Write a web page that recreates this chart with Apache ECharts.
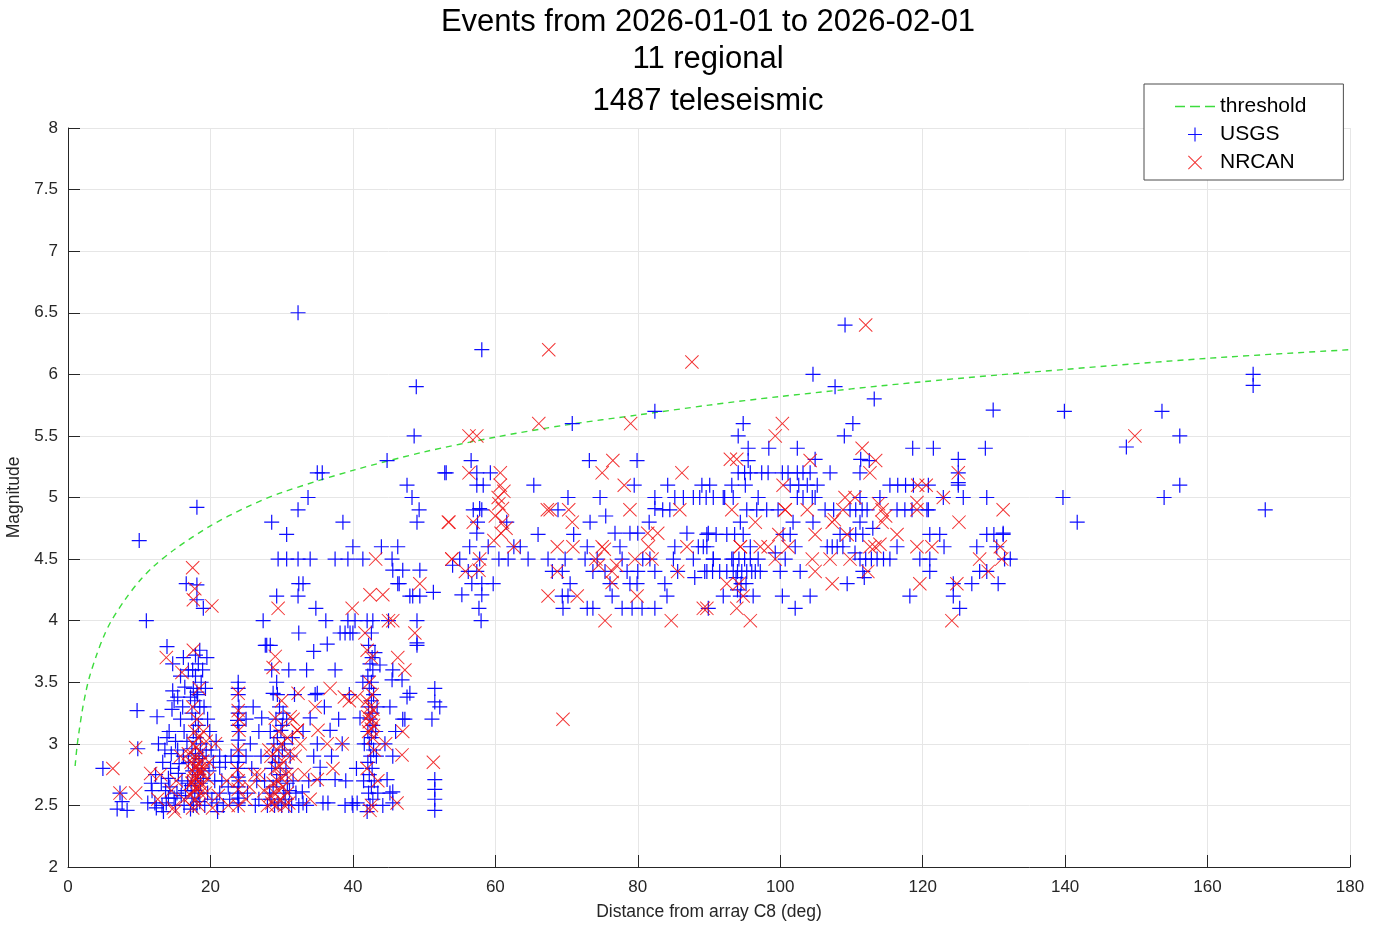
<!DOCTYPE html>
<html>
<head>
<meta charset="utf-8">
<title>Events</title>
<script src="https://cdn.jsdelivr.net/npm/echarts@6/dist/echarts.min.js"></script>
<style>
html, body { margin: 0; padding: 0; background: #fff; }
#main { width: 1380px; height: 925px; }
</style>
</head>
<body>
<div id="main"></div>
<script>
// chart texts
var titleLines = ["Events from 2026-01-01 to 2026-02-01", "11 regional", "1487 teleseismic"];
var xName = "Distance from array C8 (deg)";
var yName = "Magnitude";
var seriesNames = ["threshold", "USGS", "NRCAN"];

// threshold curve
var thrDist = [1, 1.25, 1.5, 2, 2.5, 3, 4, 5, 6, 8, 10, 12, 15, 20, 25, 30, 40, 50, 60, 70, 80, 90, 100, 120, 140, 160, 180];
var thrMag = [2.82, 2.97, 3.08, 3.27, 3.42, 3.54, 3.72, 3.87, 3.99, 4.17, 4.32, 4.44, 4.58, 4.77, 4.92, 5.04, 5.22, 5.37, 5.49, 5.59, 5.67, 5.75, 5.82, 5.94, 6.04, 6.13, 6.20];

// USGS events [distance, magnitude]
var usgsNear = [
  [4.9,2.8],[6.9,2.47],[7.3,2.6],[8.3,2.46],[7.6,2.53],[9.8,2.96],[9.7,3.27],[10,4.65],[11,4.0],[11.2,2.52],
  [12.2,2.52],[12.5,3.22],[12.7,3.0],[11.8,2.62],[12.3,2.75],[13.1,2.68],[13.3,2.85],[13.2,2.5],[13.9,3.79],[14.7,3.65],
  [14.7,3.43],[15.4,3.38],[14.6,3.28],[14.2,3.1],[14.5,2.92],[15.1,3.02],[15.3,2.6],[15.1,2.5],[14.1,2.56],[13.7,2.62],
  [15.5,2.76],[16.1,3.3],[16,2.7],[16.3,2.5],[15.8,3.55],[14.9,3.35],[14.1,2.72],[12.4,2.48],[11.7,2.68],[13.4,2.45],
  [14.9,2.56],[16.2,2.9],[15.8,3.2],[16.4,3.46],[16.6,4.3],[16.5,2.62],[15.6,2.84],[14.4,2.8],[13.6,2.95],[16.3,3.1],
  [14.3,2.65],[15.9,2.58],[13.8,2.52],[16.8,2.68],[16.9,2.85],[16.7,3.02],[15.4,2.95],[13.9,3.05],[16.9,3.6],[16.2,3.7],
  [17.2,2.47],[17.6,2.5],[18.1,2.5],[18.5,2.53],[17.4,2.56],[18.3,2.6],[17.8,2.62],[17.3,2.66],[18.6,2.68],[17.9,2.7],
  [18.2,2.75],[17.5,2.78],[18.8,2.8],[17.7,2.85],[18.4,2.88],[17.9,2.92],[17.4,2.96],[18.6,3.0],[18,3.05],[17.6,3.1],
  [18.3,3.15],[17.9,3.2],[17.4,3.25],[18.5,3.3],[17.8,3.35],[18.2,3.4],[17.6,3.45],[18.1,3.42],[18.7,3.5],[17.9,3.55],
  [17.5,3.6],[18.3,3.65],[17.9,3.72],[18.5,3.76],[17.2,3.38],[19.5,3.7],[18.1,4.17],[18.1,4.29],[19,4.1],[18.1,4.92],
  [19.2,2.5],[19.6,2.6],[19.8,2.78],[19.4,2.95],[20.2,2.55],[20.6,2.7],[19.9,3.1],[20.4,2.85],[21.3,2.9],[21.3,2.81],
  [21.3,2.6],[21.8,2.5],[22.5,2.65],[20.8,3.02],[19.1,3.3],[19.3,3.45],[21,2.45],[18.9,3.6],[19.6,3.2],[20.1,2.95],
  [21.6,2.7],[22.1,2.85],[20.9,2.52],[19.0,2.72],[18.9,2.9],
  [23.9,2.5],[23.9,2.52],[24,2.56],[23.8,2.6],[23.9,2.65],[24,2.7],[23.9,2.73],[23.8,2.8],[23.9,2.85],[24,2.9],
  [23.9,2.95],[23.9,3.03],[24,3.1],[23.9,3.15],[23.8,3.19],[23.9,3.25],[24,3.3],[23.9,3.4],[23.9,3.5],[23.9,3.45],
  [25.6,3.0],[25.2,2.6],[25.8,2.8],[26.3,2.5],[26.5,2.7],[22.9,2.9],[22.7,2.55],[25,3.2],[26,3.3],[25,2.9],[26.8,3.1],
  [27.4,4.0],[27.9,3.8],[27.7,3.8],[28.4,3.8],[28.6,3.6],[28.8,3.41],[29.3,3.5],[27.2,3.21],[28,2.5],[28.5,2.55],
  [29,2.5],[29.5,2.52],[30,2.5],[30.5,2.55],[31,2.5],[31.4,2.5],[28.3,2.6],[28.8,2.65],[29.3,2.7],[29.8,2.75],
  [30.3,2.6],[30.8,2.68],[28.6,2.8],[29.1,2.85],[29.6,2.9],[30.1,2.95],[30.6,2.8],[28.9,3.0],[29.4,3.05],[29.9,3.11],
  [30.4,3.0],[29.2,3.2],[29.7,3.3],[30.2,3.25],[28.4,3.1],[31.2,2.9],[31.6,2.7],[32,2.6],[32.9,2.61],[32.4,2.5],
  [33,2.52],[31.5,3.05],[27.6,2.7],[27.1,2.9],[26.8,2.55],[29.4,3.4],[30.1,3.15],[28.7,2.9],[30.7,3.2],[31.1,2.62]
];
var usgsMid = [
  [32.3,6.5],[35,5.2],[35.7,5.2],[33.7,5.0],[32.3,4.9],[28.6,4.8],[38.6,4.8],[30.7,4.7],[40,4.6],[29.5,4.5],
  [30.7,4.5],[32.3,4.5],[34,4.5],[37.5,4.5],[39.3,4.5],[41.4,4.5],[32.4,4.3],[33,4.3],[29.3,4.2],[32.3,4.2],
  [34.8,4.1],[32.4,3.9],[38.2,3.9],[38.9,3.9],[39.6,3.9],[40,3.9],[36.4,3.81],[39.3,4.0],[40.3,4.0],[37.5,3.6],
  [35,3.41],[34.7,3.4],[34,3.21],[36.8,3.11],[35,3.0],[35.4,2.81],[35.4,2.71],[37.5,2.71],[36.5,2.52],[35.8,2.52],
  [39.9,2.52],[40.6,2.52],[38.9,2.5],[40,2.5],[33.5,3.6],[36,3.3],[38,3.2],[38.5,3.0],[39.5,3.4],[34.5,2.9],
  [33.8,2.7],[37,2.9],[39,2.7],[40.5,2.8],[41,3.21],[36.2,4.0],[34.5,3.75],[33.5,2.5],[31.8,3.4],[31,3.6],[33,3.1],
  [42.0,2.45],[42.4,2.5],[42.8,2.55],[42.2,2.6],[42.6,2.65],[43,2.7],[42.3,2.75],[42.7,2.8],[42.1,2.85],[42.5,2.9],
  [42.9,2.95],[42.3,3.0],[42.6,3.05],[42.1,3.1],[42.8,3.15],[42.4,3.2],[42.7,3.25],[42.2,3.3],[42.6,3.35],[42.9,3.4],
  [42.3,3.45],[42.6,3.5],[42.1,3.55],[42.8,3.6],[42.4,3.65],[42.7,3.7],[42.2,3.8],[42.6,3.9],[42.8,4.0],[43.8,3.64],
  [43.1,3.74],[43.4,3.3],[43.3,2.9],[43.5,2.6],[41.5,2.7],[41.6,3.0],[41.4,3.5],[42,4.0],[43.2,3.1],
  [44.8,5.3],[48.9,5.9],[48.6,5.5],[47.6,5.1],[48.3,5.0],[49.3,4.9],[49,4.8],[46.3,4.6],[45.5,4.5],[45.6,4.41],
  [47,4.41],[49.4,4.41],[46.3,4.3],[46.5,4.3],[48,4.2],[48.4,4.2],[49.4,4.2],[51.3,4.23],[45,4.0],[49,4.0],
  [49,3.8],[49,3.82],[45.6,3.6],[45.5,3.52],[46.9,3.52],[48,3.41],[51.5,3.45],[51.5,3.34],[52.2,3.3],[51.1,3.2],
  [47,3.2],[47.6,3.38],[45.2,3.3],[47.3,3.2],[45.6,2.9],[44.8,2.71],[45.6,2.61],[45.2,2.6],[51.5,2.71],[51.5,2.63],
  [51.5,2.55],[51.5,2.46],[45.6,2.52],[44.5,3.0],[46,3.1],[44.2,2.5],[53.1,5.2],[44,4.6]
];
var usgsFar = [
  [58.1,6.2],[56.6,5.3],[52.9,5.2],[57.4,5.2],[59.3,5.2],[57.4,5.1],[58.3,5.1],[65.4,5.1],[57.8,4.91],[56.9,4.9],
  [58.1,4.9],[61.6,4.8],[57.4,4.71],[59,4.6],[56.4,4.6],[62.6,4.6],[55,4.5],[57.8,4.5],[61.8,4.5],[64.6,4.5],
  [56.2,4.4],[57.4,4.4],[56.7,4.3],[58.1,4.3],[59.7,4.3],[55.3,4.21],[58.1,4.21],[57.7,4.1],[58,4.0],[57.5,4.8],
  [63.5,4.6],[60.5,4.5],[54,4.45],
  [82.4,5.7],[70.8,5.6],[73.2,5.3],[79.9,5.3],[79.5,5.1],[84.2,5.1],[89,5.1],[90.1,5.1],[70.2,5.0],[74.7,5.0],
  [82.4,5.0],[82.4,4.91],[85.2,5.0],[86.4,5.0],[87.8,5.0],[68.8,4.9],[83.5,4.9],[84.5,4.9],[73.3,4.8],[81.6,4.8],
  [76.8,4.71],[78.9,4.71],[80,4.71],[86.9,4.71],[89.9,4.71],[72.9,4.6],[77.5,4.6],[85.2,4.6],[89.7,4.6],[67.4,4.5],
  [69.8,4.5],[72.6,4.5],[74.3,4.5],[77.8,4.5],[80.7,4.5],[81.7,4.5],[85,4.5],[87.8,4.5],[90.6,4.5],[68,4.4],
  [69.4,4.4],[73.7,4.4],[75.4,4.4],[78.5,4.4],[80,4.4],[82.4,4.4],[85.6,4.4],[89.7,4.4],[70.5,4.3],[76.1,4.3],
  [78.9,4.3],[79.9,4.3],[83.8,4.3],[69.4,4.2],[70.2,4.2],[76.4,4.2],[84.1,4.2],[69.5,4.1],[72.9,4.1],[73.7,4.1],
  [77.8,4.1],[79.2,4.1],[80.6,4.1],[82.4,4.1],[89.9,4.1],[88.5,4.6],[71,4.7],[66,4.7],[75.5,4.85],[88,4.35],
  [94.8,5.6],[94.1,5.5],[95.5,5.4],[95.5,5.3],[95,5.2],[94.1,5.2],[95.8,5.2],[97.4,5.2],[98.3,5.2],[100.3,5.2],
  [93.2,5.1],[95.1,5.1],[88.7,5.0],[89.6,5.0],[90.6,5.0],[92,5.0],[93.4,5.0],[92.2,5.0],[96.9,5.0],[95.3,4.9],
  [96.7,4.9],[98.1,4.9],[99.7,4.9],[94.4,4.8],[89.7,4.7],[91,4.7],[92.5,4.7],[93.6,4.7],[94.8,4.7],[100.4,4.7],
  [89.2,4.6],[95.8,4.6],[90.6,4.5],[93.4,4.5],[94.2,4.5],[95,4.5],[95.8,4.5],[96.9,4.5],[93.2,4.5],[89.4,4.4],
  [90.5,4.4],[91.5,4.4],[92.5,4.4],[93.4,4.4],[94,4.4],[94.6,4.4],[95.3,4.4],[96,4.4],[96.5,4.4],[97.2,4.4],
  [93.8,4.35],[94.5,4.3],[95.2,4.3],[94,4.25],[100,4.4],[92,4.2],[94.4,4.2],[96.2,4.2],[99.3,4.55],
  [109.1,6.4],[104.6,6.0],[107.7,5.9],[113.2,5.8],[110.2,5.6],[109,5.5],[98.4,5.4],[102.4,5.4],[104.9,5.31],[111.3,5.31],
  [101.1,5.2],[102.4,5.2],[103.2,5.2],[104.2,5.2],[107,5.2],[111.2,5.2],[101.4,5.1],[102.6,5.1],[103.8,5.1],[105.2,5.1],
  [115.4,5.1],[116.5,5.1],[117.6,5.1],[118.7,5.1],[102.4,5.0],[103.2,5.0],[104.5,5.0],[104.9,5.0],[111.2,5.0],[114,5.0],
  [106.3,4.9],[107.5,4.9],[109.8,4.9],[110.6,4.9],[111.5,4.9],[112.2,4.9],[116.4,4.9],[117.5,4.9],[118.5,4.9],[120.6,4.9],
  [101.8,4.8],[104.6,4.8],[111.2,4.8],[101.4,4.7],[108.4,4.7],[109.8,4.7],[110.6,4.7],[111.6,4.7],[102.1,4.6],[106.6,4.6],
  [107.3,4.6],[108,4.6],[108.8,4.6],[116.4,4.6],[100.7,4.5],[111.2,4.5],[112,4.5],[112.8,4.5],[113.6,4.5],[114.5,4.5],
  [115.4,4.5],[119.6,4.5],[102.8,4.4],[111.6,4.4],[109.4,4.3],[100.3,4.2],[104.2,4.2],[118.2,4.2],[102.1,4.1],[110.5,4.55],
  [111.8,4.35],[113,4.75],[112.5,5.3],
  [129.9,5.71],[118.6,5.4],[121.5,5.4],[128.8,5.4],[125,5.31],[125,5.2],[125,5.12],[120.8,5.1],[125,5.1],[122.9,5.0],
  [125.7,5.0],[129,5.0],[131.3,4.71],[121,4.7],[122.4,4.7],[129,4.7],[130,4.7],[131.3,4.7],[127.6,4.6],[130.4,4.6],
  [121,4.5],[132.3,4.5],[131.5,4.5],[121,4.4],[128,4.4],[129,4.4],[124.3,4.3],[126.9,4.3],[130.6,4.3],[124.3,4.2],
  [125.2,4.1],[120.8,4.9],[123,4.6],
  [166.4,6.0],[166.4,5.91],[139.9,5.7],[153.6,5.7],[148.6,5.41],[156.1,5.5],[156.1,5.1],[153.9,5.0],[139.7,5.0],[141.7,4.8],
  [168.1,4.9]
];

// NRCAN events [distance, magnitude]
var nrcanNear = [
  [6.3,2.8],[9.5,2.97],[9.5,2.6],[7.3,2.6],[13.8,3.7],[16,3.58],[14.5,2.62],[13,2.75],[14.8,2.48],[15.2,2.7],
  [11.6,2.76],[12.6,2.55],[15,2.45],[15.8,2.9],[16.3,2.55],
  [17.5,2.48],[18.3,2.5],[17.9,2.55],[17.2,2.58],[18.6,2.6],[17.7,2.62],[18.1,2.65],[17.4,2.68],[18.4,2.7],[17.8,2.72],
  [18.0,2.75],[17.5,2.78],[18.5,2.8],[17.9,2.82],[17.3,2.85],[18.2,2.88],[17.7,2.9],[18.6,2.93],[18,2.97],[17.6,3.0],
  [18.3,3.05],[17.8,3.1],[18.1,3.2],[17.5,3.3],[18.4,3.45],[17.6,3.76],[17.6,4.17],[17.8,4.26],[17.5,4.43],[20.2,4.12],
  [19.3,2.6],[19.8,2.85],[20.3,2.48],[20.7,3.0],[19,3.1],[22.3,2.7],[21.1,2.58],[19.6,2.72],
  [18.8,2.66],[18.7,2.76],[18.3,2.84],[17.9,2.64],[18.9,2.86],[17.6,2.7],[18.2,2.78],[19.1,2.8],[16.9,2.92],[19.4,3.02],
  [23.9,2.5],[23.9,2.63],[23.8,2.79],[23.9,2.95],[24,3.11],[23.9,3.27],[23.9,3.41],[24,3.2],[23.9,2.7],
  [25,2.55],[25.5,2.65],[26.2,2.75],[22.5,2.5],
  [29.1,3.71],[28.8,3.62],[29.1,3.21],[31.2,3.22],[28,2.5],[28.6,2.52],[29.2,2.5],[29.8,2.55],[30.4,2.5],[31,2.52],
  [28.4,2.58],[29,2.6],[29.6,2.62],[30.2,2.65],[30.8,2.6],[28.8,2.68],[29.4,2.7],[30,2.72],[30.6,2.75],[29.1,2.8],
  [29.7,2.82],[30.3,2.85],[28.5,2.9],[29.4,2.95],[30,3.0],[30.8,3.05],[29.6,3.1],[31.4,2.75],[32.2,3.11],[32.3,3.41],
  [31.9,2.9],[27.5,2.62],[26.9,2.75],[29.5,4.1],[30,3.35],[30.9,2.92],[32.6,3.0],[31.6,3.2],[28.2,2.95]
];
var nrcanMid = [
  [34.7,3.3],[32.2,3.11],[35.1,3.11],[36.4,3.0],[38.5,3.0],[35,2.71],[39.9,4.1],[33.2,2.75],[37.2,2.8],[39.5,3.35],
  [38.8,3.38],[40.6,3.38],[34,2.55],[36.8,3.45],
  [42.4,2.46],[42.6,2.5],[42.0,2.8],[42.8,3.05],[42.2,3.1],[42.6,3.12],[42.9,3.15],[42.3,3.18],[42.7,3.2],[42.1,3.22],
  [42.5,3.25],[42.8,3.28],[42.4,3.3],[42,3.35],[42.7,3.4],[42.3,3.5],[42.6,3.7],[42,3.76],[41.7,3.9],[43.2,4.5],
  [42.4,4.21],[44.2,4.21],[43.5,2.7],[43,2.95],
  [46.3,3.7],[47.3,3.6],[47,3.1],[51.3,2.85],[46.2,2.52],[46.9,2.91],[45,4.0],[45.6,4.0],[48.7,3.9],[49.4,4.3],
  [53.4,4.8],[53.9,4.5],[44.6,3.0]
];
var nrcanFar = [
  [56.3,5.5],[57.4,5.5],[66.1,5.6],[67.5,6.2],[56.3,5.2],[60.7,5.2],[60.7,5.1],[60.4,5.0],[61,4.91],[56.9,4.8],
  [53.5,4.8],[61,4.8],[60.8,4.71],[62.6,4.6],[53.9,4.5],[57.8,4.5],[57.7,4.41],[60.5,4.95],[61.2,5.05],[60,4.85],
  [61.5,4.75],[59.8,4.65],[55.8,4.4],
  [87.6,6.1],[79,5.6],[76.5,5.3],[75,5.2],[86.2,5.2],[78.1,5.1],[78.9,4.9],[67.3,4.9],[67.7,4.9],[70.3,4.9],
  [70.8,4.8],[85.9,4.9],[81.4,4.71],[82.8,4.71],[68.7,4.6],[70.9,4.6],[75,4.6],[75.3,4.58],[86.9,4.6],[74.1,4.5],
  [79.6,4.5],[82,4.5],[68.7,4.4],[76.4,4.4],[85.6,4.4],[76.4,4.31],[67.4,4.2],[71.5,4.2],[79.9,4.2],[89.2,4.1],
  [75.4,4.0],[84.7,4.0],[69.5,3.2],[77,4.45],[81.5,4.6],[74.5,4.45],
  [93,5.31],[93.9,5.31],[93.2,4.9],[96.5,4.8],[94.4,4.6],[97.2,4.6],[98.3,4.6],[99.3,4.5],[94.2,4.3],[89.7,4.1],
  [93.9,4.1],[95.8,4.0],[99.3,5.5],[100.3,5.6],[99.8,4.7],[100.7,4.9],[92.5,4.3],[94.8,4.2],[94.4,4.6],
  [112,6.4],[104.2,5.3],[111.5,5.4],[113.4,5.3],[112.6,5.2],[100.4,5.1],[109.1,5.0],[119.2,4.96],[119.3,5.1],[103.8,4.9],
  [108.8,4.9],[114.3,4.9],[119.2,4.9],[100.7,4.9],[107.3,4.8],[107.6,4.82],[114.3,4.8],[104.9,4.7],[109.4,4.7],[116.4,4.7],
  [101.1,4.6],[112.6,4.6],[113.3,4.6],[114,4.62],[119.2,4.6],[104.5,4.5],[107,4.5],[109.8,4.5],[104.9,4.4],[112.3,4.4],
  [107.3,4.3],[119.6,4.3],[113.8,4.95],[110.5,5.0],[114.8,4.85],
  [121.3,4.6],[125,5.2],[122.9,5.0],[125.1,4.8],[131.3,4.9],[130.9,4.6],[128,4.5],[131.1,4.5],[129.2,4.4],[124.8,4.3],
  [124.1,4.0],[120.5,5.1],
  [149.8,5.5]
];

// marker shapes: thin plus, thin cross, short dashes for the legend
var plusPath = "path://M9.2,0H10.8V9.2H20V10.8H10.8V20H9.2V10.8H0V9.2H9.2Z";
var crossPath = "path://M0,1L1,0L10,9L19,0L20,1L11,10L20,19L19,20L10,11L1,20L0,19L9,10Z";
var dashPath = "path://M0,0H10V1.3H0Z M15,0H25V1.3H15Z M30,0H40V1.3H30Z";

var fontName = "'Liberation Sans', Arial, sans-serif";
var axisColor = "#262626";

function zipLine(xs, ys) {
    var out = [];
    for (var i = 0; i < xs.length; i++) {
        out.push([xs[i], ys[i]]);
    }
    return out;
}

function drawChart() {
    var myChart = echarts.init(document.getElementById("main"));
    var titleTops = [0, 37, 79];
    var titles = [];
    for (var i = 0; i < titleLines.length; i++) {
        titles.push({
            text: titleLines[i],
            left: 703,
            top: titleTops[i],
            textAlign: "center",
            textStyle: { fontFamily: fontName, fontSize: 31, fontWeight: "normal", color: "#000", lineHeight: 34 }
        });
    }

    var option = {
        backgroundColor: "#fff",
        animation: false,
        title: titles,
        grid: { left: 68, right: 30, top: 128, bottom: 58, containLabel: false, outerBoundsMode: "none" },
        legend: {
            left: 1144,
            top: 84,
            orient: "vertical",
            align: "left",
            padding: [12, 37, 7, 31],
            itemWidth: 40,
            itemHeight: 14,
            itemGap: 7,
            backgroundColor: "#fff",
            borderColor: "#4d4d4d",
            borderWidth: 1,
            borderRadius: 0,
            symbolKeepAspect: true,
            textStyle: { fontFamily: fontName, fontSize: 21, color: "#000" },
            data: [
                { name: seriesNames[0], icon: dashPath, itemStyle: { color: "#3ddc3d" } },
                { name: seriesNames[1], icon: plusPath },
                { name: seriesNames[2], icon: crossPath }
            ]
        },
        xAxis: {
            type: "value",
            min: 0,
            max: 180,
            interval: 20,
            name: xName,
            nameLocation: "middle",
            nameGap: 36,
            nameTextStyle: { fontFamily: fontName, fontSize: 17.5, color: axisColor },
            axisLine: { onZero: false, lineStyle: { color: axisColor, width: 1 } },
            axisTick: { inside: true, length: 12, lineStyle: { color: axisColor } },
            axisLabel: { fontFamily: fontName, fontSize: 17, color: axisColor, margin: 12 },
            splitLine: { show: true, lineStyle: { color: "#e6e6e6", width: 1 } }
        },
        yAxis: {
            type: "value",
            min: 2,
            max: 8,
            interval: 0.5,
            name: yName,
            nameLocation: "middle",
            nameGap: 42,
            nameTextStyle: { fontFamily: fontName, fontSize: 17.5, color: axisColor },
            axisLine: { show: true, onZero: false, lineStyle: { color: axisColor, width: 1 } },
            axisTick: { show: true, inside: true, length: 12, lineStyle: { color: axisColor } },
            axisLabel: { fontFamily: fontName, fontSize: 17, color: axisColor, margin: 10 },
            splitLine: { show: true, lineStyle: { color: "#e6e6e6", width: 1 } }
        },
        series: [
            {
                name: seriesNames[0],
                type: "line",
                data: zipLine(thrDist, thrMag),
                smooth: 0.3,
                symbol: "none",
                lineStyle: { color: "#3ddc3d", width: 1.4, type: [6, 5] },
                itemStyle: { color: "#3ddc3d" },
                z: 2
            },
            {
                name: seriesNames[1],
                type: "scatter",
                data: usgsNear.concat(usgsMid, usgsFar),
                symbol: plusPath,
                symbolSize: 15,
                symbolKeepAspect: true,
                itemStyle: { color: "#0000ff", opacity: 0.95 },
                z: 3
            },
            {
                name: seriesNames[2],
                type: "scatter",
                data: nrcanNear.concat(nrcanMid, nrcanFar),
                symbol: crossPath,
                symbolSize: 14,
                symbolKeepAspect: true,
                itemStyle: { color: "#f01010", opacity: 0.85 },
                z: 4
            }
        ]
    };

    myChart.setOption(option);
}

drawChart();
</script>
</body>
</html>
